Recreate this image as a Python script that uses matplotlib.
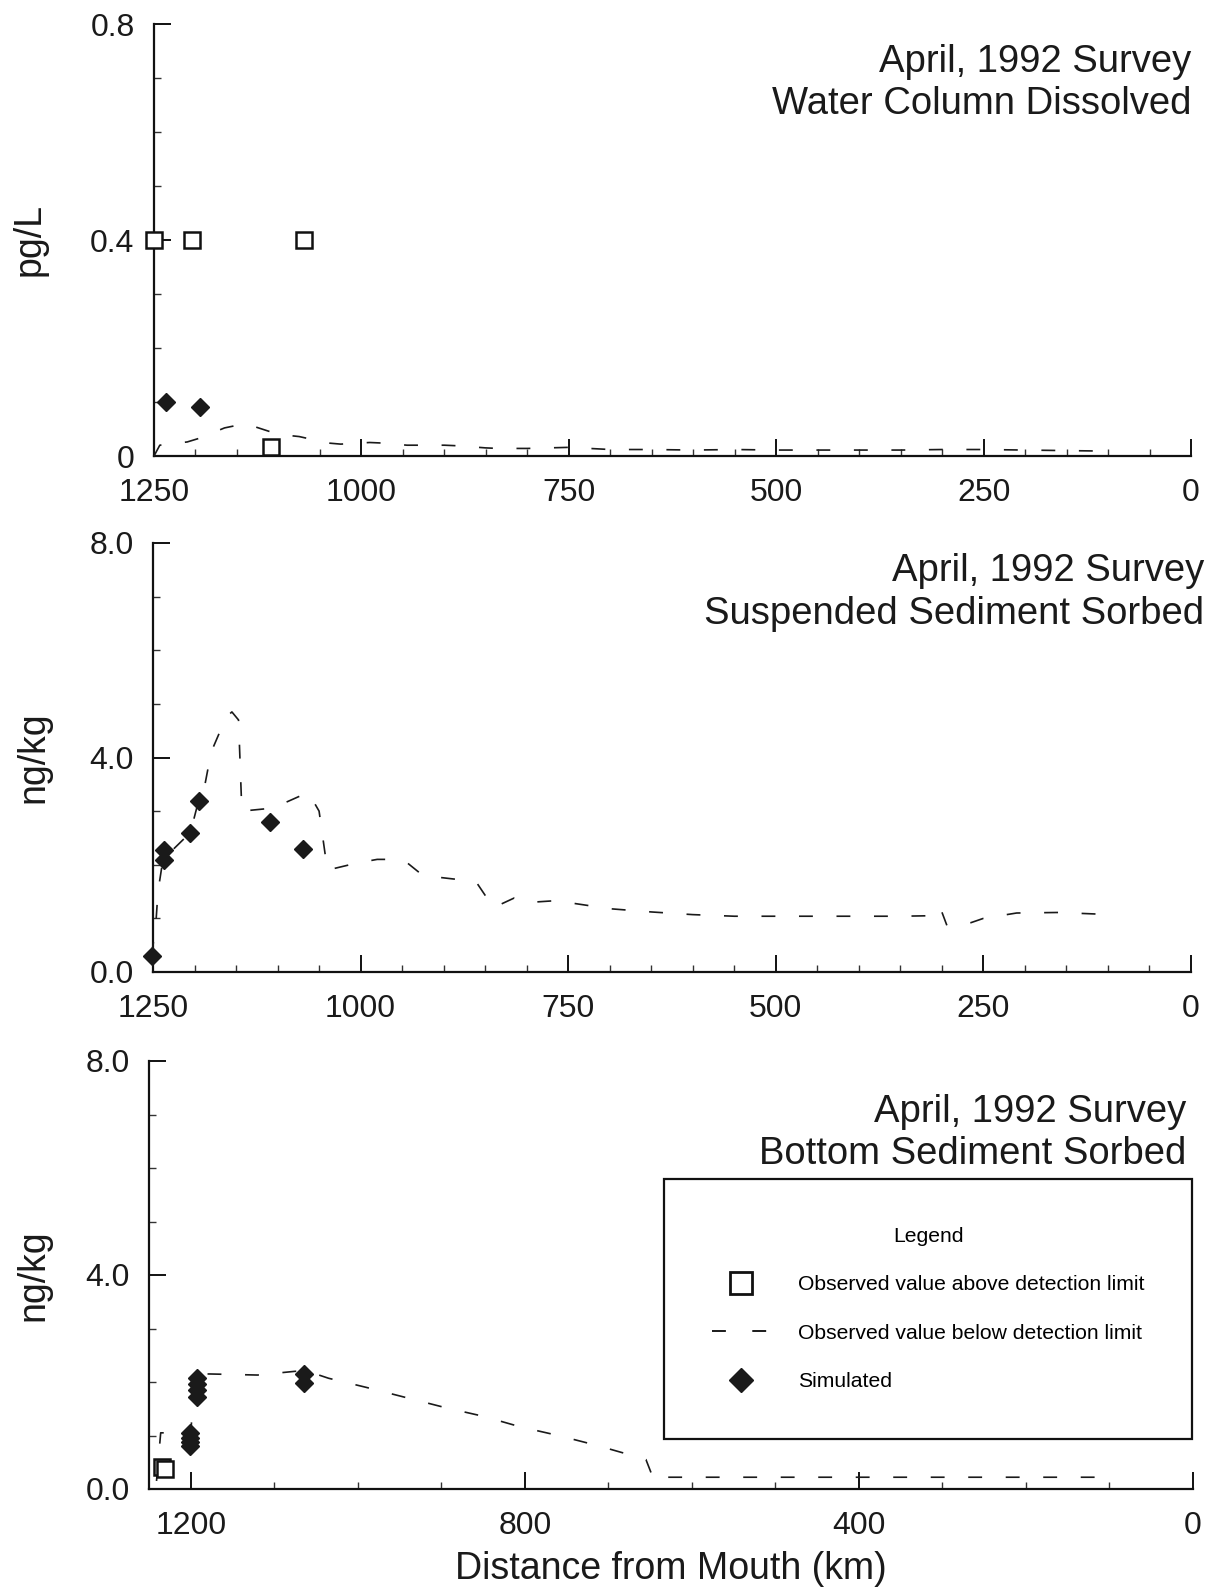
import matplotlib
matplotlib.use("Agg")
import matplotlib.pyplot as plt
from matplotlib.ticker import MultipleLocator, FixedLocator, FixedFormatter
from matplotlib.lines import Line2D
from matplotlib import font_manager

plt.rcParams['font.family'] = ['Liberation Sans', 'DejaVu Sans']
plt.rcParams['lines.scale_dashes'] = False

# ---------------- data ----------------
# Panel 1: Water column dissolved (pg/L)
p1_obs_km = [1250, 1204, 1069, 1109]
p1_obs_val = [0.40, 0.40, 0.40, 0.017]
p1_sim_km = [1235, 1195]
p1_sim_val = [0.100, 0.090]
p1_det_km = [1250, 1243, 1210, 1195, 1165, 1140, 1100, 1075, 1040, 1025, 990, 975,
             945, 930, 900, 885, 850, 835, 800, 750, 700, 650, 600, 550, 500, 450,
             400, 350, 300, 250, 200, 150, 100]
p1_det_val = [0.000, 0.020, 0.026, 0.033, 0.052, 0.060, 0.040, 0.036, 0.024, 0.022,
              0.025, 0.024, 0.020, 0.020, 0.020, 0.019, 0.015, 0.014, 0.014, 0.016,
              0.012, 0.012, 0.011, 0.012, 0.011, 0.011, 0.011, 0.011, 0.012, 0.012,
              0.011, 0.010, 0.009]

# Panel 2: Suspended sediment sorbed (ng/kg)
p2_sim_km = [1251, 1237, 1237, 1205, 1195, 1109, 1069]
p2_sim_val = [0.29, 2.28, 2.08, 2.59, 3.19, 2.79, 2.29]
p2_det_km = [1252, 1247, 1244, 1238, 1205, 1195, 1188, 1180, 1162, 1155, 1147, 1143,
             1110, 1092, 1063, 1050, 1040, 1005, 980, 960, 945, 925, 880, 860, 840,
             815, 795, 765, 700, 650, 600, 550, 500, 450, 400, 350, 310, 302, 294,
             265, 250, 210, 160, 112]
p2_det_val = [0.30, 0.80, 1.50, 2.10, 2.60, 3.20, 3.45, 4.10, 4.75, 4.85, 4.70, 3.00,
              3.05, 3.15, 3.35, 3.00, 1.90, 2.03, 2.10, 2.10, 2.05, 1.80, 1.72, 1.66,
              1.20, 1.38, 1.30, 1.33, 1.18, 1.12, 1.07, 1.04, 1.04, 1.04, 1.04, 1.04,
              1.05, 1.20, 0.87, 0.92, 1.00, 1.10, 1.11, 1.08]

# Panel 3: Bottom sediment sorbed (ng/kg)
p3_obs_km = [1234, 1231]
p3_obs_val = [0.41, 0.37]
p3_sim_km = [1201, 1201, 1201, 1201, 1192, 1192, 1192, 1192, 1065, 1065]
p3_sim_val = [0.80, 0.88, 0.96, 1.04, 1.72, 1.85, 1.97, 2.08, 1.98, 2.15]
p3_det_km = [1241, 1236, 1200, 1195, 1177, 1120, 1075, 1060, 1035, 990, 940, 895,
             850, 805, 760, 715, 670, 655, 645, 630, 600, 500, 400, 300, 200, 110]
p3_det_val = [0.15, 1.05, 1.05, 2.15, 2.15, 2.13, 2.20, 2.20, 2.07, 1.90, 1.70, 1.52,
              1.36, 1.16, 1.00, 0.82, 0.62, 0.55, 0.15, 0.22, 0.22, 0.22, 0.22, 0.22,
              0.22, 0.22]

x_ticks_top = [1250, 1000, 750, 500, 250, 0]
x_labels_top = ["1250", "1000", "750", "500", "250", "0"]
x_ticks_bot = [1200, 800, 400, 0]
x_labels_bot = ["1200", "800", "400", "0"]
y_ticks_1 = [0, 0.4, 0.8]
y_labels_1 = ["0", "0.4", "0.8"]
y_ticks_2 = [0, 4, 8]
y_labels_2 = ["0.0", "4.0", "8.0"]

titles = ["April, 1992 Survey\nWater Column Dissolved",
          "April, 1992 Survey\nSuspended Sediment Sorbed",
          "April, 1992 Survey\nBottom Sediment Sorbed"]
legend_labels = ["Observed value above detection limit",
                 "Observed value below detection limit",
                 "Simulated"]

# ---------------- figure ----------------
W, H = 1212, 1589
fig = plt.figure(figsize=(W / 100, H / 100), dpi=100)


def rect(l, r, t, b):
    return [l / W, 1 - b / H, (r - l) / W, (b - t) / H]


ax1 = fig.add_axes(rect(154, 1191, 24, 456))
ax2 = fig.add_axes(rect(153, 1191, 543, 972))
ax3 = fig.add_axes(rect(149, 1193, 1061, 1489))

DASH = (10, 17)
LINEC = '#1a1a1a'


def style(ax, ylim, yt, yl, ymin, xt, xl, xmin):
    ax.set_xlim(1250, 0)
    ax.set_ylim(*ylim)
    for s in ['top', 'right']:
        ax.spines[s].set_visible(False)
    for s in ['left', 'bottom']:
        ax.spines[s].set_linewidth(1.6)
        ax.spines[s].set_color('#111111')
    ax.yaxis.set_major_locator(FixedLocator(yt))
    ax.yaxis.set_major_formatter(FixedFormatter(yl))
    ax.yaxis.set_minor_locator(MultipleLocator(ymin))
    ax.xaxis.set_major_locator(FixedLocator(xt))
    ax.xaxis.set_major_formatter(FixedFormatter(xl))
    ax.xaxis.set_minor_locator(MultipleLocator(xmin))
    ax.tick_params(which='major', direction='in', length=12, width=1.4,
                   labelsize=23, color='#111111', labelcolor='#1a1a1a')
    ax.tick_params(axis='x', which='major', pad=15.5)
    ax.tick_params(axis='y', which='major', pad=14)
    ax.tick_params(which='minor', direction='in', length=5, width=1.0,
                   color='#333333')


style(ax1, (0, 0.8), y_ticks_1, y_labels_1, 0.1, x_ticks_top, x_labels_top, 50)
style(ax2, (0, 8), y_ticks_2, y_labels_2, 1.0, x_ticks_top, x_labels_top, 50)
style(ax3, (0, 8), y_ticks_2, y_labels_2, 1.0, x_ticks_bot, x_labels_bot, 100)

sq_kw = dict(linestyle='none', marker='s', markersize=12, markerfacecolor='white',
             markeredgecolor='#111111', markeredgewidth=1.8, clip_on=False, zorder=4)
di_kw = dict(linestyle='none', marker='D', markersize=9, color='#1a1a1a',
             clip_on=False, zorder=5)
ln_kw = dict(color=LINEC, linewidth=1.2, linestyle=(0, DASH), clip_on=False, zorder=3)

# panel 1
ax1.plot(p1_det_km, p1_det_val, **ln_kw)
ax1.plot(p1_obs_km, p1_obs_val, **sq_kw)
ax1.plot(p1_sim_km, p1_sim_val, **di_kw)
# panel 2
ax2.plot(p2_det_km, p2_det_val, **ln_kw)
ax2.plot(p2_sim_km, p2_sim_val, **di_kw)
# panel 3
ax3.plot(p3_det_km, p3_det_val, **ln_kw)
ax3.plot(p3_obs_km, p3_obs_val, **sq_kw)
ax3.plot(p3_sim_km, p3_sim_val, **di_kw)

# axis labels
ax1.set_ylabel("pg/L", fontsize=27, color='#1a1a1a')
ax1.yaxis.set_label_coords((48 - 154) / 1037, 0.5)
ax2.set_ylabel("ng/kg", fontsize=27, color='#1a1a1a')
ax2.yaxis.set_label_coords((51 - 153) / 1038, 0.5)
ax3.set_ylabel("ng/kg", fontsize=27, color='#1a1a1a')
ax3.yaxis.set_label_coords((51 - 149) / 1044, 0.5)
ax3.set_xlabel("Distance from Mouth (km)", fontsize=27, color='#1a1a1a')
ax3.xaxis.set_label_coords(0.5, (1489 - 1551) / 428)

# panel titles
tkw = dict(ha='right', va='center', multialignment='right', fontsize=27.5,
           linespacing=1.25, color='#1a1a1a')
fig.text(1191 / W, 1 - 83 / H, titles[0], **tkw)
fig.text(1204 / W, 1 - 592 / H, titles[1], **tkw)
fig.text(1186 / W, 1 - 1133 / H, titles[2], **tkw)

# legend
avail = {f.name for f in font_manager.fontManager.ttflist}
if 'Liberation Sans Narrow' in avail:
    leg_family, leg_size = ['Liberation Sans Narrow', 'DejaVu Sans'], 18
else:
    leg_family, leg_size = ['Liberation Sans', 'DejaVu Sans'], 15.2

h_sq = Line2D([], [], linestyle='none', marker='s', markersize=16,
              markerfacecolor='white', markeredgecolor='#111111', markeredgewidth=2)
h_ln = Line2D([], [], color=LINEC, linewidth=1.4, linestyle=(0, (10, 19)))
h_di = Line2D([], [], linestyle='none', marker='D', markersize=12, color='#1a1a1a')

leg = fig.legend([h_sq, h_ln, h_di], legend_labels, loc='upper left',
                 bbox_to_anchor=(664 / W, 1 - 1179 / H), borderaxespad=0,
                 title="Legend", frameon=True, fancybox=False, shadow=False,
                 framealpha=1, edgecolor='#111111', borderpad=2.25, labelspacing=1.4,
                 handlelength=2.8, handletextpad=1.3,
                 prop={'family': leg_family, 'size': leg_size},
                 title_fontproperties={'family': leg_family, 'size': leg_size})
leg.get_frame().set_linewidth(1.6)

fig.savefig("out.png", dpi=100, facecolor='white')
